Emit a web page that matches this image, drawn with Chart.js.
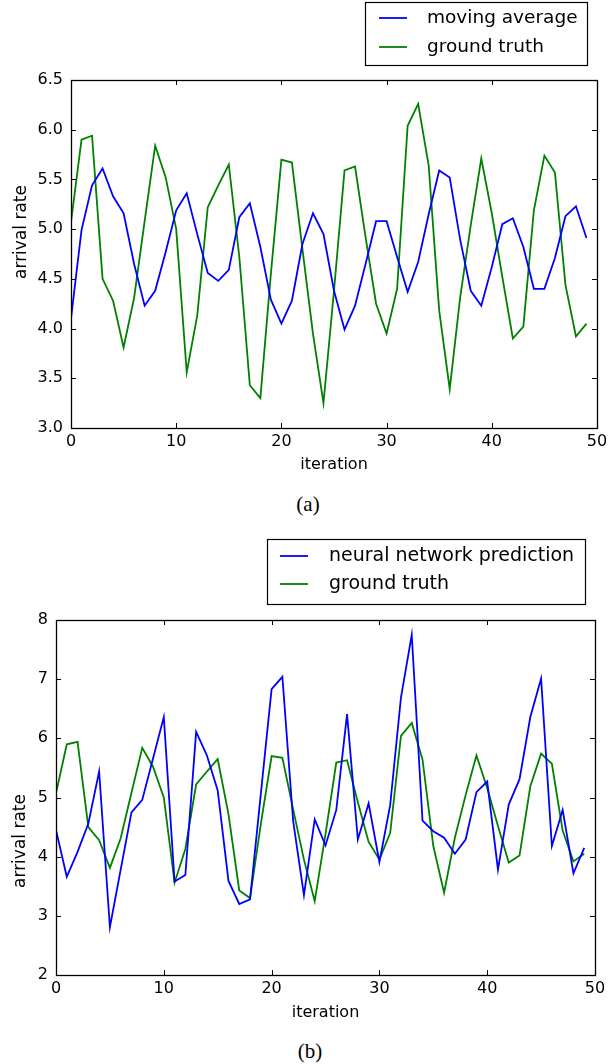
<!DOCTYPE html>
<html>
<head>
<meta charset="utf-8">
<script src="https://cdn.jsdelivr.net/npm/chart.js@4/dist/chart.umd.min.js"></script>
<style>
  html, body { margin: 0; padding: 0; background: #fff; }
  body { width: 615px; height: 1064px; position: relative; overflow: hidden; }
  .panel { position: absolute; left: 0; width: 615px; }
  .caption { position: absolute; width: 100px; text-align: center;
             font-family: "Liberation Serif", "Times New Roman", serif; font-size: 21px; color: #000;
             line-height: 21px; }
</style>
</head>
<body>
<div class="panel" style="top:0;height:480px"><canvas id="chartA"></canvas></div>
<div class="caption" style="left:258px;top:494px">(a)</div>
<div class="panel" style="top:520px;height:510px"><canvas id="chartB"></canvas></div>
<div class="caption" style="left:260px;top:1041px">(b)</div>
<script>
// iteration index on the x axis
const iterations = [0,1,2,3,4,5,6,7,8,9,10,11,12,13,14,15,16,17,18,19,20,21,22,23,24,
  25,26,27,28,29,30,31,32,33,34,35,36,37,38,39,40,41,42,43,44,45,46,47,48,49];

// observed arrival rate
const groundTruth = [5.07,5.90,5.94,4.50,4.28,3.81,4.31,5.08,5.84,5.52,
  5.00,3.56,4.13,5.22,5.44,5.65,4.72,3.43,3.30,4.55,
  5.70,5.67,4.80,3.95,3.25,4.38,5.59,5.63,4.92,4.25,
  3.95,4.40,6.04,6.26,5.64,4.18,3.39,4.32,5.04,5.71,
  5.16,4.52,3.90,4.02,5.19,5.74,5.57,4.44,3.92,4.05];

// moving-average estimate
const movingAverage = [4.10,4.99,5.44,5.61,5.33,5.16,4.65,4.23,4.38,4.77,
  5.19,5.36,4.95,4.56,4.48,4.59,5.12,5.26,4.82,4.29,
  4.05,4.28,4.85,5.16,4.95,4.38,3.99,4.23,4.65,5.08,
  5.08,4.72,4.37,4.67,5.15,5.59,5.52,4.89,4.38,4.23,
  4.62,5.05,5.11,4.82,4.40,4.40,4.71,5.13,5.23,4.91];

// neural network estimate
const nnPrediction = [4.45,3.66,4.08,4.56,5.44,2.81,3.78,4.75,4.96,5.66,
  6.36,3.58,3.69,6.11,5.71,5.12,3.59,3.20,3.28,5.06,
  6.83,7.04,4.60,3.35,4.63,4.19,4.79,6.41,4.29,4.90,
  3.91,4.87,6.69,7.75,4.61,4.43,4.32,4.05,4.29,5.09,
  5.27,3.78,4.88,5.31,6.36,7.01,4.18,4.79,3.72,4.15];

// axis ranges and tick steps
const xRange = [0, 50], xStep = 10;
const yRangeA = [3.0, 6.5], yStepA = 0.5;
const yRangeB = [2, 8], yStepB = 1;

const BLUE = '#0000ff';
const GREEN = '#008000';
const FONT = '"DejaVu Sans", sans-serif';

function pairs(values) {
  return iterations.map((x, i) => ({ x: x, y: values[i] }));
}

// Black box around the plot area with inward tick marks on all four sides
const framePlugin = {
  id: 'frame',
  afterDatasetsDraw(chart) {
    const { ctx, chartArea: a, scales } = chart;
    const len = 5;
    ctx.save();
    ctx.strokeStyle = '#000';
    ctx.lineWidth = 1;
    ctx.beginPath();
    scales.x.ticks.forEach(t => {
      const px = Math.round(scales.x.getPixelForValue(t.value)) + 0.5;
      ctx.moveTo(px, a.bottom); ctx.lineTo(px, a.bottom - len);
      ctx.moveTo(px, a.top); ctx.lineTo(px, a.top + len);
    });
    scales.y.ticks.forEach(t => {
      const py = Math.round(scales.y.getPixelForValue(t.value)) + 0.5;
      ctx.moveTo(a.left, py); ctx.lineTo(a.left + len, py);
      ctx.moveTo(a.right, py); ctx.lineTo(a.right - len, py);
    });
    ctx.stroke();
    ctx.lineWidth = 1.3;
    ctx.strokeRect(Math.round(a.left) + 0.5, Math.round(a.top) + 0.5,
                   Math.round(a.right - a.left), Math.round(a.bottom - a.top));
    ctx.restore();
  }
};

// Boxed legend placed above the top-right corner of the plot
const boxLegendPlugin = {
  id: 'boxLegend',
  afterDraw(chart, args, o) {
    const ctx = chart.ctx;
    ctx.save();
    ctx.fillStyle = '#fff';
    ctx.fillRect(o.left, o.top, o.width, o.height);
    ctx.strokeStyle = '#000';
    ctx.lineWidth = 1.2;
    ctx.strokeRect(o.left + 0.5, o.top + 0.5, o.width, o.height);
    ctx.font = o.fontSize + 'px ' + FONT;
    ctx.textBaseline = 'middle';
    ctx.textAlign = 'left';
    chart.data.datasets.forEach((ds, i) => {
      const y = o.rows[i];
      ctx.strokeStyle = ds.borderColor;
      ctx.lineWidth = ds.borderWidth;
      ctx.beginPath();
      ctx.moveTo(o.lineX0, y); ctx.lineTo(o.lineX1, y);
      ctx.stroke();
      ctx.fillStyle = '#000';
      ctx.fillText(ds.label, o.textX, y);
    });
    ctx.restore();
  }
};

// Rotated y-axis title at a set position
const sideTitlePlugin = {
  id: 'sideTitle',
  afterDraw(chart, args, o) {
    const ctx = chart.ctx;
    ctx.save();
    ctx.translate(o.x, o.y);
    ctx.rotate(-Math.PI / 2);
    ctx.font = o.fontSize + 'px ' + FONT;
    ctx.fillStyle = '#000';
    ctx.textAlign = 'center';
    ctx.textBaseline = 'middle';
    ctx.fillText(o.text, 0, 0);
    ctx.restore();
  }
};

function makeChart(id, cfg) {
  return new Chart(document.getElementById(id), {
    type: 'line',
    data: {
      datasets: cfg.series.map(s => ({
        label: s.label,
        data: pairs(s.values),
        borderColor: s.color,
        backgroundColor: s.color,
        borderWidth: 1.8,
        pointRadius: 0,
        tension: 0,
        fill: false
      }))
    },
    options: {
      responsive: true,
      maintainAspectRatio: false,
      animation: false,
      events: [],
      layout: { padding: cfg.padding },
      plugins: {
        legend: { display: false },
        tooltip: { enabled: false },
        boxLegend: cfg.legend,
        sideTitle: cfg.yTitle
      },
      scales: {
        x: {
          type: 'linear',
          min: xRange[0], max: xRange[1],
          grid: { display: false, drawTicks: false },
          border: { display: false },
          ticks: { stepSize: xStep, padding: cfg.xTickPad, color: '#000', font: { family: FONT, size: 16 } },
          title: { display: true, text: 'iteration', color: '#000',
                   font: { family: FONT, size: 16 }, padding: { top: 0, bottom: cfg.xTitlePad } },
          afterFit(s) { s.height = cfg.xAxisHeight; }
        },
        y: {
          type: 'linear',
          min: cfg.yRange[0], max: cfg.yRange[1],
          grid: { display: false, drawTicks: false },
          border: { display: false },
          ticks: { stepSize: cfg.yStep, padding: 8, color: '#000', font: { family: FONT, size: 16 },
                   callback: cfg.yFormat },
          afterFit(s) { s.width = cfg.yAxisWidth; }
        }
      }
    },
    plugins: [framePlugin, boxLegendPlugin, sideTitlePlugin]
  });
}

makeChart('chartA', {
  series: [
    { label: 'moving average', values: movingAverage, color: BLUE },
    { label: 'ground truth', values: groundTruth, color: GREEN }
  ],
  padding: { top: 80, right: 18, left: 0, bottom: 0 },
  yAxisWidth: 71,
  xAxisHeight: 52,
  xTickPad: 4,
  xTitlePad: 6,
  yRange: yRangeA, yStep: yStepA,
  yFormat: v => Number(v).toFixed(1),
  legend: { left: 365, top: 2, width: 222, height: 63, rows: [18, 47],
            lineX0: 379, lineX1: 407, textX: 427, fontSize: 18.5 },
  yTitle: { text: 'arrival rate', x: 22, y: 232, fontSize: 17 }
});

makeChart('chartB', {
  series: [
    { label: 'neural network prediction', values: nnPrediction, color: BLUE },
    { label: 'ground truth', values: groundTruth, color: GREEN }
  ],
  padding: { top: 100, right: 20, left: 0, bottom: 0 },
  yAxisWidth: 56,
  xAxisHeight: 55,
  xTickPad: 4,
  xTitlePad: 8,
  yRange: yRangeB, yStep: yStepB,
  yFormat: v => String(v),
  legend: { left: 267, top: 19, width: 318, height: 65, rows: [36, 64],
            lineX0: 280, lineX1: 308, textX: 329, fontSize: 19 },
  yTitle: { text: 'arrival rate', x: 21, y: 321, fontSize: 17 }
});
</script>
</body>
</html>
